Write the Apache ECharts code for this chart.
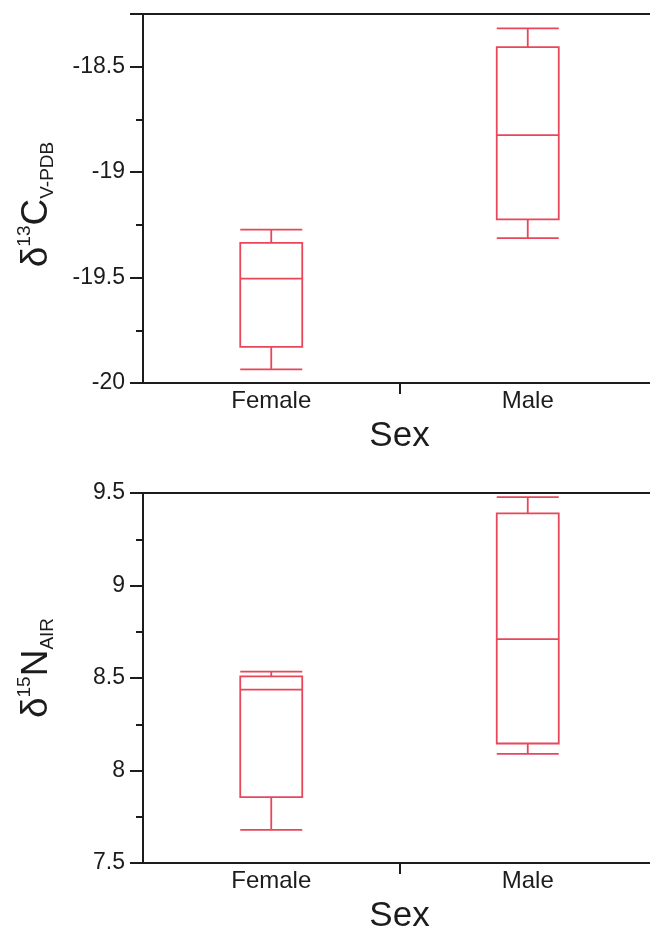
<!DOCTYPE html>
<html>
<head>
<meta charset="utf-8">
<script src="https://cdn.jsdelivr.net/npm/echarts@6/dist/echarts.min.js"></script>
<style>
html,body{margin:0;padding:0;background:#fff;}
#chart{width:650px;height:929px;}
</style>
</head>
<body>
<div id="chart"></div>
<script>
// ---- data ----
const categories = ['Female', 'Male'];
// [lower whisker, Q1, median, Q3, upper whisker]
const carbonFemale = [-19.935, -19.829, -19.505, -19.335, -19.273];
const carbonMale   = [-19.313, -19.224, -18.824, -18.407, -18.318];
const nitrogenFemale = [7.679, 7.856, 8.437, 8.509, 8.534];
const nitrogenMale   = [8.090, 8.146, 8.710, 9.390, 9.478];
const carbonRange = [-20, -18.25];
const nitrogenRange = [7.5, 9.5];
const tickStep = 0.5;
const xTitle = 'Sex';

const FONT = '"Liberation Sans", Arial, Helvetica, sans-serif';
const INK = '#1c1c1c';
const RED = '#e8475a';

const chart = echarts.init(document.getElementById('chart'), null, {renderer: 'canvas'});

function yAxisFor(gridIndex, range, rich, text, pad) {
  return {
    type: 'value', gridIndex: gridIndex,
    min: range[0], max: range[1], interval: tickStep,
    axisLine: {show: true, onZero: false, lineStyle: {color: INK, width: 2}},
    axisTick: {show: true, inside: false, length: 13, lineStyle: {color: INK, width: 2}},
    minorTick: {show: true, splitNumber: 2, length: 7, lineStyle: {color: INK, width: 2}},
    splitLine: {show: false},
    axisLabel: {
      fontFamily: FONT, fontSize: 23, color: INK, margin: 18,
      formatter: function (v) {
        const r = Math.round(v * 100) / 100;
        if (Math.abs((r / tickStep) - Math.round(r / tickStep)) > 1e-6) return '';
        return String(r);
      }
    },
    name: text, nameLocation: 'middle', nameRotate: 90, nameGap: 88,
    nameTextStyle: {fontFamily: FONT, color: INK, rich: rich, padding: pad}
  };
}

const richC = {
  d: {fontSize: 37, fontFamily: FONT, color: INK, lineHeight: 44, verticalAlign: 'bottom'},
  sup: {fontSize: 19, fontFamily: FONT, color: INK, lineHeight: 44, verticalAlign: 'top', padding: [4, 0, 0, 0]},
  c: {fontSize: 37, fontFamily: FONT, color: INK, lineHeight: 44, verticalAlign: 'bottom'},
  sub: {fontSize: 19, fontFamily: FONT, color: INK, lineHeight: 44, verticalAlign: 'bottom', padding: [0, 0, -2, 0]}
};

function xCat(gridIndex) {
  return {
    type: 'category', gridIndex: gridIndex, data: categories, boundaryGap: true,
    position: 'bottom',
    axisLine: {show: true, onZero: false, lineStyle: {color: INK, width: 2}},
    axisTick: {show: false},
    axisLabel: {fontFamily: FONT, fontSize: 24, color: INK, margin: 6},
    name: xTitle, nameLocation: 'middle', nameGap: 36,
    nameTextStyle: {fontFamily: FONT, fontSize: 35, color: INK}
  };
}
function xTickAxis(gridIndex) {
  return {
    type: 'value', gridIndex: gridIndex, min: 0, max: categories.length, interval: 1,
    position: 'bottom',
    axisLine: {show: false},
    axisTick: {show: true, length: 11, customValues: [1], lineStyle: {color: INK, width: 2}},
    axisLabel: {show: false}, splitLine: {show: false}
  };
}
function xTop(gridIndex) {
  return {
    type: 'value', gridIndex: gridIndex, min: 0, max: categories.length, position: 'top',
    axisLine: {show: true, onZero: false, lineStyle: {color: INK, width: 2}},
    axisTick: {show: false}, axisLabel: {show: false}, splitLine: {show: false}
  };
}

const option = {
  backgroundColor: '#ffffff',
  animation: false,
  grid: [
    {left: 143, top: 14, width: 513, height: 369, containLabel: false, outerBoundsMode: 'none'},
    {left: 143, top: 493, width: 513, height: 370, containLabel: false, outerBoundsMode: 'none'}
  ],
  xAxis: [xCat(0), xTickAxis(0), xTop(0), xCat(1), xTickAxis(1), xTop(1)],
  yAxis: [
    yAxisFor(0, carbonRange, richC, '{d|δ}{sup|13}{c|C}{sub|V-PDB}', [0, 12, 0, 0]),
    yAxisFor(1, nitrogenRange, richC, '{d|δ}{sup|15}{c|N}{sub|AIR}', [0, 0, 0, 20])
  ],
  series: [
    {
      type: 'boxplot', xAxisIndex: 0, yAxisIndex: 0,
      data: [carbonFemale, carbonMale],
      boxWidth: [62, 62],
      itemStyle: {color: 'transparent', borderColor: RED, borderWidth: 1.8},
      emphasis: {disabled: true}
    },
    {
      type: 'boxplot', xAxisIndex: 3, yAxisIndex: 1,
      data: [nitrogenFemale, nitrogenMale],
      boxWidth: [62, 62],
      itemStyle: {color: 'transparent', borderColor: RED, borderWidth: 1.8},
      emphasis: {disabled: true}
    }
  ]
};
chart.setOption(option);
</script>
</body>
</html>
